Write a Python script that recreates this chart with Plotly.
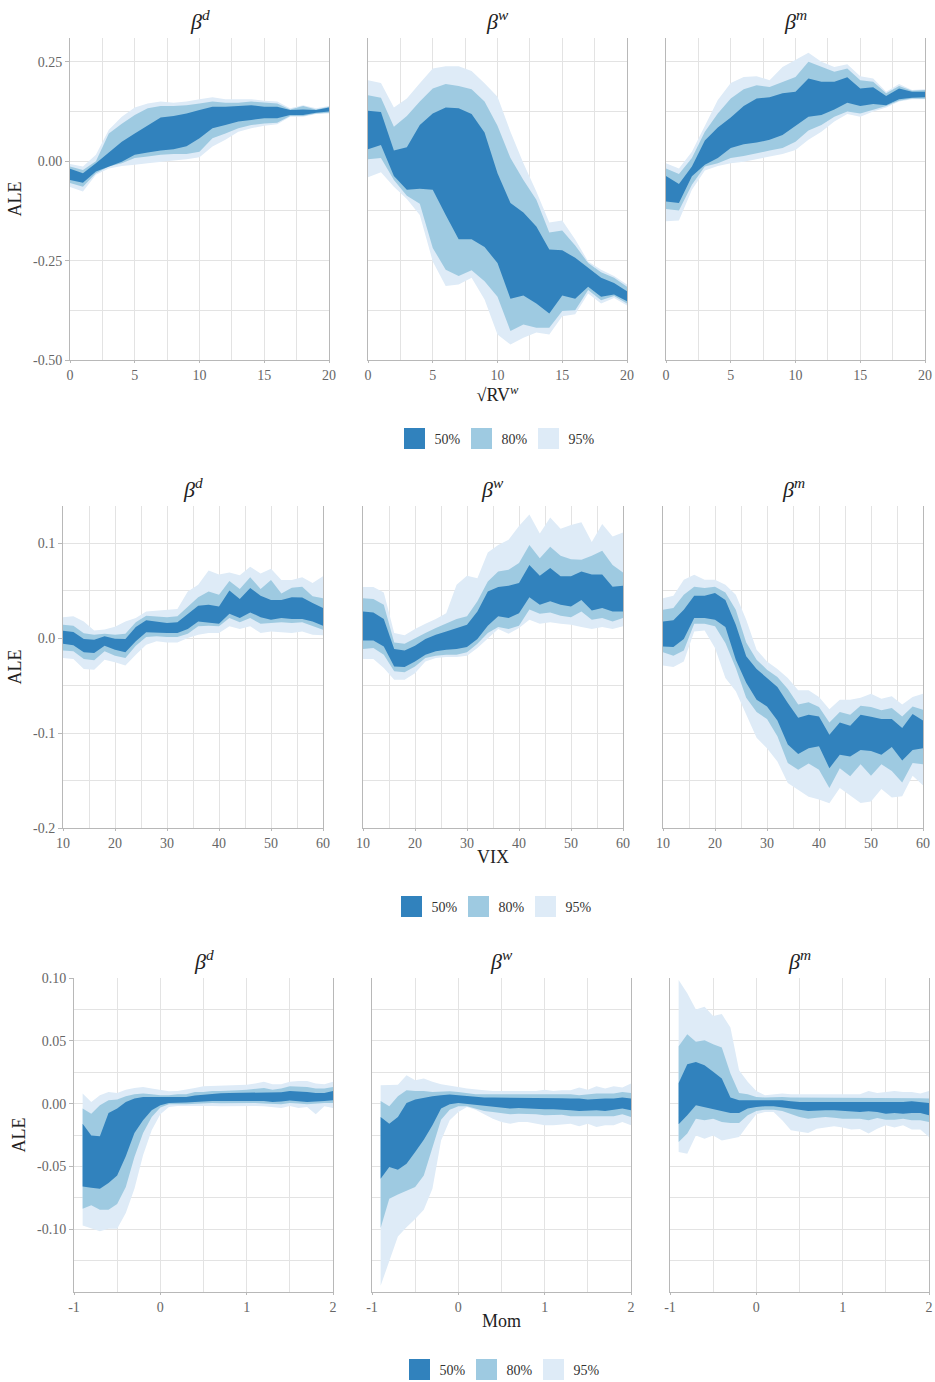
import plotly.graph_objects as go

# ---------------- data ----------------
rv_x = [0, 1, 2, 3, 4, 5, 6, 7, 8, 9, 10, 11, 12, 13, 14, 15, 16, 17, 18, 19, 20]
vix_x = [10, 12, 14, 16, 18, 20, 22, 24, 26, 28, 30, 32, 34, 36, 38, 40, 42, 44, 46, 48, 50, 52, 54, 56, 58, 60]
mom_x = [-0.9, -0.8, -0.7, -0.6, -0.5, -0.4, -0.3, -0.2, -0.1, 0.0, 0.1, 0.2, 0.3, 0.4, 0.5,
         0.6, 0.7, 0.8, 0.9, 1.0, 1.1, 1.2, 1.3, 1.4, 1.5, 1.6, 1.7, 1.8, 1.9, 2.0]

# sqrt(RV^w) -> beta^d
rv_d_hi95 = [-0.007, -0.013, 0.016, 0.079, 0.112, 0.135, 0.145, 0.150, 0.147, 0.150, 0.156, 0.161, 0.156, 0.156, 0.156, 0.152, 0.150, 0.133, 0.141, 0.133, 0.139]
rv_d_hi80 = [-0.013, -0.022, 0.000, 0.070, 0.094, 0.116, 0.133, 0.139, 0.139, 0.141, 0.145, 0.150, 0.147, 0.147, 0.150, 0.147, 0.145, 0.130, 0.139, 0.130, 0.137]
rv_d_hi50 = [-0.019, -0.030, -0.005, 0.022, 0.049, 0.070, 0.091, 0.110, 0.114, 0.120, 0.129, 0.137, 0.137, 0.139, 0.141, 0.137, 0.137, 0.129, 0.130, 0.129, 0.135]
rv_d_lo50 = [-0.047, -0.054, -0.026, -0.013, -0.001, 0.016, 0.022, 0.027, 0.030, 0.038, 0.058, 0.083, 0.091, 0.100, 0.104, 0.108, 0.108, 0.116, 0.116, 0.122, 0.125]
rv_d_lo80 = [-0.055, -0.064, -0.030, -0.013, -0.005, 0.008, 0.012, 0.016, 0.018, 0.018, 0.024, 0.058, 0.070, 0.083, 0.091, 0.095, 0.097, 0.114, 0.114, 0.120, 0.122]
rv_d_lo95 = [-0.065, -0.076, -0.034, -0.018, -0.012, -0.009, -0.005, -0.001, 0.002, 0.005, 0.010, 0.037, 0.054, 0.074, 0.083, 0.089, 0.093, 0.112, 0.112, 0.119, 0.120]

# sqrt(RV^w) -> beta^w
rv_w_hi95 = [0.204, 0.197, 0.135, 0.158, 0.196, 0.233, 0.239, 0.239, 0.227, 0.196, 0.162, 0.074, -0.005, -0.076, -0.154, -0.149, -0.197, -0.252, -0.273, -0.289, -0.310]
rv_w_hi80 = [0.166, 0.160, 0.087, 0.114, 0.150, 0.183, 0.194, 0.189, 0.181, 0.150, 0.089, 0.008, -0.047, -0.097, -0.179, -0.174, -0.212, -0.256, -0.279, -0.293, -0.316]
rv_w_hi50 = [0.127, 0.124, 0.027, 0.035, 0.091, 0.120, 0.135, 0.133, 0.119, 0.072, -0.030, -0.105, -0.129, -0.164, -0.222, -0.224, -0.243, -0.268, -0.293, -0.306, -0.327]
rv_w_lo50 = [0.030, 0.041, -0.037, -0.072, -0.069, -0.072, -0.135, -0.196, -0.196, -0.216, -0.256, -0.346, -0.338, -0.358, -0.383, -0.338, -0.346, -0.316, -0.341, -0.335, -0.352]
rv_w_lo80 = [0.005, 0.008, -0.047, -0.087, -0.107, -0.218, -0.273, -0.289, -0.274, -0.302, -0.341, -0.427, -0.411, -0.419, -0.419, -0.377, -0.375, -0.324, -0.350, -0.339, -0.358]
rv_w_lo95 = [-0.040, -0.028, -0.064, -0.095, -0.135, -0.252, -0.314, -0.310, -0.293, -0.348, -0.436, -0.461, -0.444, -0.431, -0.436, -0.390, -0.385, -0.333, -0.358, -0.344, -0.363]

# sqrt(RV^w) -> beta^m
rv_m_hi95 = [-0.005, -0.018, 0.024, 0.091, 0.154, 0.197, 0.212, 0.214, 0.204, 0.237, 0.256, 0.273, 0.250, 0.237, 0.244, 0.214, 0.208, 0.175, 0.194, 0.179, 0.181]
rv_m_hi80 = [-0.018, -0.032, 0.008, 0.074, 0.120, 0.158, 0.181, 0.191, 0.187, 0.200, 0.212, 0.250, 0.237, 0.225, 0.233, 0.204, 0.200, 0.171, 0.189, 0.177, 0.179]
rv_m_hi50 = [-0.037, -0.057, -0.013, 0.052, 0.085, 0.110, 0.139, 0.158, 0.161, 0.171, 0.175, 0.208, 0.200, 0.200, 0.211, 0.183, 0.186, 0.164, 0.183, 0.175, 0.175]
rv_m_lo50 = [-0.101, -0.105, -0.038, -0.009, 0.008, 0.033, 0.043, 0.047, 0.054, 0.066, 0.089, 0.112, 0.116, 0.130, 0.147, 0.139, 0.144, 0.141, 0.156, 0.160, 0.161]
rv_m_lo80 = [-0.120, -0.124, -0.059, -0.013, -0.005, 0.008, 0.013, 0.020, 0.027, 0.033, 0.049, 0.077, 0.091, 0.112, 0.125, 0.120, 0.129, 0.139, 0.152, 0.158, 0.157]
rv_m_lo95 = [-0.151, -0.149, -0.072, -0.023, -0.012, -0.005, -0.001, 0.005, 0.012, 0.018, 0.028, 0.054, 0.074, 0.100, 0.119, 0.112, 0.125, 0.135, 0.150, 0.156, 0.156]

# VIX -> beta^d
vix_d_hi95 = [0.022, 0.023, 0.0175, 0.008, 0.009, 0.012, 0.0175, 0.021, 0.028, 0.029, 0.030, 0.0305, 0.049, 0.056, 0.071, 0.067, 0.069, 0.066, 0.075, 0.068, 0.073, 0.061, 0.061, 0.064, 0.058, 0.065]
vix_d_hi80 = [0.014, 0.013, 0.005, 0.0035, 0.0046, 0.0035, 0.0046, 0.0165, 0.0235, 0.023, 0.022, 0.023, 0.033, 0.043, 0.049, 0.0456, 0.060, 0.0516, 0.064, 0.0516, 0.061, 0.047, 0.053, 0.054, 0.044, 0.042]
vix_d_hi50 = [0.0077, 0.0063, -0.001, -0.0018, 0.0018, -0.0007, -0.001, 0.0116, 0.0186, 0.0175, 0.0158, 0.0165, 0.0256, 0.034, 0.035, 0.0333, 0.050, 0.041, 0.0526, 0.0446, 0.040, 0.040, 0.043, 0.0428, 0.037, 0.0316]
vix_d_lo50 = [-0.006, -0.0077, -0.015, -0.0158, -0.008, -0.0123, -0.015, -0.0035, 0.006, 0.006, 0.0053, 0.0053, 0.0095, 0.0175, 0.0165, 0.015, 0.0256, 0.021, 0.027, 0.022, 0.0193, 0.021, 0.020, 0.020, 0.0175, 0.013]
vix_d_lo80 = [-0.013, -0.014, -0.022, -0.0235, -0.014, -0.0186, -0.021, -0.008, 0.001, 0.0018, 0.001, 0.001, 0.0046, 0.0123, 0.013, 0.0123, 0.021, 0.0165, 0.021, 0.015, 0.0158, 0.0165, 0.0158, 0.0165, 0.0123, 0.0088]
vix_d_lo95 = [-0.021, -0.022, -0.0326, -0.0333, -0.0228, -0.0256, -0.029, -0.0175, -0.007, -0.0035, -0.0046, -0.0046, 0.0, 0.0035, 0.0053, 0.0053, 0.0123, 0.0095, 0.0123, 0.0053, 0.007, 0.006, 0.0053, 0.007, 0.0035, 0.0028]

# VIX -> beta^w
vix_w_hi95 = [0.0537, 0.0537, 0.048, 0.0053, 0.0028, 0.0095, 0.015, 0.020, 0.026, 0.056, 0.0656, 0.063, 0.090, 0.098, 0.1035, 0.118, 0.130, 0.110, 0.127, 0.115, 0.119, 0.122, 0.101, 0.120, 0.107, 0.111]
vix_w_hi80 = [0.042, 0.041, 0.035, -0.0046, -0.006, 0.0, 0.0053, 0.0105, 0.015, 0.020, 0.0228, 0.0386, 0.0596, 0.070, 0.072, 0.079, 0.098, 0.084, 0.096, 0.0867, 0.083, 0.0825, 0.0867, 0.092, 0.077, 0.069]
vix_w_hi50 = [0.028, 0.027, 0.020, -0.0116, -0.013, -0.008, -0.001, 0.0035, 0.007, 0.0105, 0.014, 0.028, 0.049, 0.0537, 0.055, 0.058, 0.077, 0.0656, 0.0737, 0.065, 0.065, 0.070, 0.067, 0.067, 0.054, 0.055]
vix_w_lo50 = [-0.0025, -0.0025, -0.0088, -0.030, -0.0305, -0.0246, -0.0175, -0.014, -0.0123, -0.0116, -0.0095, -0.001, 0.013, 0.0228, 0.021, 0.026, 0.043, 0.035, 0.0386, 0.035, 0.0333, 0.040, 0.029, 0.0316, 0.028, 0.028]
vix_w_lo80 = [-0.0116, -0.0105, -0.0175, -0.035, -0.036, -0.030, -0.021, -0.0186, -0.0175, -0.0175, -0.015, -0.006, 0.0053, 0.0116, 0.0095, 0.013, 0.030, 0.0256, 0.027, 0.0235, 0.022, 0.028, 0.0193, 0.021, 0.0175, 0.021]
vix_w_lo95 = [-0.022, -0.022, -0.0316, -0.044, -0.044, -0.037, -0.0246, -0.021, -0.020, -0.020, -0.0186, -0.0105, 0.0, 0.0095, 0.0046, 0.0105, 0.0193, 0.015, 0.0165, 0.015, 0.014, 0.0116, 0.0095, 0.0116, 0.0095, 0.0123]

# VIX -> beta^m
vix_m_hi95 = [0.042, 0.0446, 0.0614, 0.0667, 0.0614, 0.0614, 0.056, 0.0456, 0.0193, -0.0123, -0.0246, -0.0326, -0.042, -0.055, -0.055, -0.062, -0.075, -0.065, -0.065, -0.063, -0.0586, -0.064, -0.0614, -0.070, -0.062, -0.0586]
vix_m_hi80 = [0.0298, 0.0316, 0.0456, 0.054, 0.0526, 0.054, 0.048, 0.0298, -0.0046, -0.0228, -0.0333, -0.041, -0.0537, -0.070, -0.0677, -0.0726, -0.0888, -0.078, -0.0807, -0.0712, -0.0726, -0.076, -0.0737, -0.0825, -0.072, -0.0754]
vix_m_hi50 = [0.0175, 0.0186, 0.0298, 0.0446, 0.0446, 0.0474, 0.040, 0.014, -0.0193, -0.0326, -0.042, -0.0516, -0.0684, -0.084, -0.0807, -0.0825, -0.1018, -0.0888, -0.0923, -0.0807, -0.083, -0.0853, -0.0853, -0.0947, -0.080, -0.0867]
vix_m_lo50 = [-0.0088, -0.0095, -0.001, 0.021, 0.021, 0.0193, 0.0116, -0.0228, -0.047, -0.065, -0.072, -0.0867, -0.112, -0.122, -0.116, -0.114, -0.137, -0.123, -0.1246, -0.118, -0.119, -0.123, -0.1147, -0.129, -0.118, -0.116]
vix_m_lo80 = [-0.015, -0.0186, -0.013, 0.015, 0.015, 0.0123, -0.0053, -0.0316, -0.063, -0.078, -0.0853, -0.1035, -0.1316, -0.1386, -0.132, -0.1386, -0.158, -0.137, -0.1456, -0.133, -0.145, -0.133, -0.140, -0.152, -0.1316, -0.133]
vix_m_lo95 = [-0.029, -0.0305, -0.0246, 0.007, 0.008, -0.0105, -0.042, -0.056, -0.0807, -0.105, -0.116, -0.130, -0.1526, -0.160, -0.167, -0.170, -0.174, -0.158, -0.166, -0.1737, -0.172, -0.159, -0.168, -0.1667, -0.145, -0.155]

# Mom -> beta^d
mom_d_hi95 = [0.008, 0.0013, 0.0066, 0.0093, 0.0085, 0.011, 0.0125, 0.0133, 0.012, 0.0106, 0.0098, 0.010, 0.011, 0.0125, 0.0138, 0.014, 0.014, 0.0146, 0.0144, 0.015, 0.016, 0.0173, 0.0154, 0.0154, 0.0173, 0.018, 0.018, 0.016, 0.0154, 0.0173]
mom_d_hi80 = [-0.004, -0.008, -0.0013, 0.0027, 0.0032, 0.0059, 0.0074, 0.008, 0.0074, 0.0066, 0.0066, 0.0074, 0.0074, 0.0093, 0.0093, 0.010, 0.010, 0.0106, 0.0106, 0.011, 0.012, 0.0125, 0.011, 0.012, 0.0138, 0.0138, 0.0133, 0.012, 0.012, 0.0133]
mom_d_hi50 = [-0.016, -0.0253, -0.026, -0.0074, -0.004, 0.0013, 0.004, 0.0053, 0.0053, 0.0053, 0.0048, 0.0053, 0.0053, 0.0064, 0.0072, 0.008, 0.0082, 0.0085, 0.0085, 0.0088, 0.009, 0.0088, 0.0088, 0.009, 0.010, 0.0098, 0.0093, 0.0085, 0.0085, 0.010]
mom_d_lo50 = [-0.066, -0.067, -0.0678, -0.0633, -0.0572, -0.042, -0.0234, -0.0133, -0.0053, -0.0013, 0.0005, 0.0008, 0.0008, 0.0013, 0.0019, 0.0021, 0.0021, 0.0024, 0.0021, 0.0021, 0.0024, 0.0021, 0.0013, 0.0016, 0.0024, 0.0019, 0.0013, 0.0019, 0.0021, 0.0027]
mom_d_lo80 = [-0.0838, -0.081, -0.0846, -0.0846, -0.080, -0.0665, -0.0426, -0.0234, -0.0106, -0.0032, -0.0005, -0.0005, -0.0005, 0.0, 0.0, 0.0005, 0.0003, 0.0005, 0.0003, 0.0003, 0.0005, 0.0, -0.0005, -0.0005, 0.0005, 0.0, -0.0005, 0.0, 0.0005, 0.0005]
mom_d_lo95 = [-0.097, -0.099, -0.1016, -0.0997, -0.0997, -0.0872, -0.0678, -0.0412, -0.0213, -0.0085, -0.0027, -0.0019, -0.0019, -0.0021, -0.0019, -0.0019, -0.0021, -0.0019, -0.0021, -0.0021, -0.0019, -0.0021, -0.0027, -0.0035, -0.0019, -0.0035, -0.0027, -0.0085, -0.0021, -0.0035]

# Mom -> beta^w
mom_w_hi95 = [0.0146, 0.015, 0.015, 0.0226, 0.0186, 0.020, 0.0173, 0.0154, 0.0146, 0.0133, 0.012, 0.011, 0.0106, 0.010, 0.010, 0.010, 0.010, 0.0106, 0.010, 0.011, 0.010, 0.0106, 0.0106, 0.0128, 0.011, 0.0138, 0.012, 0.0138, 0.0128, 0.016]
mom_w_hi80 = [0.0021, -0.0021, 0.0059, 0.0106, 0.010, 0.010, 0.0093, 0.0098, 0.0098, 0.0093, 0.0085, 0.0074, 0.0074, 0.0074, 0.0074, 0.0074, 0.0074, 0.0074, 0.0074, 0.0074, 0.0074, 0.0074, 0.0074, 0.0066, 0.0074, 0.008, 0.008, 0.008, 0.0093, 0.0085]
mom_w_hi50 = [-0.0106, -0.016, -0.0106, 0.0005, 0.0032, 0.0048, 0.0059, 0.0066, 0.0072, 0.0066, 0.0059, 0.0053, 0.0048, 0.0048, 0.0048, 0.0048, 0.0048, 0.0048, 0.0045, 0.0045, 0.0045, 0.0043, 0.004, 0.004, 0.0032, 0.0037, 0.004, 0.004, 0.0048, 0.004]
mom_w_lo50 = [-0.0598, -0.0505, -0.0527, -0.0479, -0.0386, -0.0287, -0.0173, -0.004, -0.0005, 0.0005, 0.0, -0.0005, -0.0013, -0.0021, -0.0032, -0.004, -0.0035, -0.0035, -0.004, -0.0045, -0.0045, -0.0048, -0.0053, -0.0059, -0.0059, -0.0053, -0.0059, -0.0048, -0.004, -0.0053]
mom_w_lo80 = [-0.099, -0.0758, -0.0723, -0.0691, -0.0665, -0.0572, -0.0346, -0.0128, -0.0048, -0.0021, -0.0021, -0.004, -0.0059, -0.0066, -0.0074, -0.0085, -0.008, -0.008, -0.0085, -0.0093, -0.0093, -0.0088, -0.0101, -0.0106, -0.0106, -0.0106, -0.0101, -0.0101, -0.0085, -0.0106]
mom_w_lo95 = [-0.145, -0.1263, -0.1059, -0.0984, -0.0918, -0.0846, -0.0678, -0.0293, -0.0133, -0.0066, -0.0027, -0.0048, -0.0085, -0.012, -0.0146, -0.016, -0.0146, -0.0146, -0.016, -0.0173, -0.0173, -0.0168, -0.016, -0.0181, -0.016, -0.0186, -0.0173, -0.0173, -0.0146, -0.0173]

# Mom -> beta^m
mom_m_hi95 = [0.0984, 0.0878, 0.075, 0.0771, 0.0697, 0.0713, 0.0606, 0.0266, 0.0173, 0.010, 0.0066, 0.0074, 0.008, 0.0074, 0.0074, 0.0074, 0.0074, 0.0074, 0.0074, 0.0074, 0.0072, 0.0074, 0.010, 0.0085, 0.0093, 0.010, 0.0093, 0.0093, 0.008, 0.010]
mom_m_hi80 = [0.0457, 0.0553, 0.0492, 0.0505, 0.0473, 0.0447, 0.0239, 0.0085, 0.0074, 0.0053, 0.0048, 0.0053, 0.0053, 0.0048, 0.0048, 0.0048, 0.0048, 0.0048, 0.0048, 0.0048, 0.0043, 0.0043, 0.0048, 0.0048, 0.0048, 0.0048, 0.0048, 0.0048, 0.0043, 0.004]
mom_m_hi50 = [0.0165, 0.0314, 0.0332, 0.0306, 0.0253, 0.020, 0.0048, 0.0027, 0.0027, 0.0027, 0.0027, 0.0027, 0.0027, 0.0019, 0.0013, 0.0013, 0.0013, 0.0013, 0.0013, 0.0013, 0.0011, 0.0011, 0.0011, 0.0011, 0.0011, 0.0008, 0.0013, 0.0019, 0.0013, 0.0005]
mom_m_lo50 = [-0.0165, -0.0093, -0.0013, -0.0027, -0.004, -0.0059, -0.0074, -0.0074, -0.004, -0.0027, -0.0021, -0.0021, -0.0027, -0.004, -0.0048, -0.0059, -0.0059, -0.0053, -0.0053, -0.0053, -0.0061, -0.0066, -0.0061, -0.0066, -0.008, -0.0074, -0.008, -0.0074, -0.0074, -0.0093]
mom_m_lo80 = [-0.0306, -0.0239, -0.012, -0.0133, -0.012, -0.0146, -0.0154, -0.0154, -0.0093, -0.0059, -0.0048, -0.0048, -0.0059, -0.0085, -0.0106, -0.012, -0.0112, -0.0106, -0.0112, -0.012, -0.012, -0.012, -0.0133, -0.0114, -0.0128, -0.0128, -0.012, -0.0133, -0.0133, -0.0146]
mom_m_lo95 = [-0.0386, -0.0399, -0.0253, -0.0279, -0.0253, -0.0293, -0.0279, -0.0266, -0.0173, -0.0085, -0.0066, -0.0066, -0.0133, -0.0213, -0.0226, -0.0234, -0.020, -0.0191, -0.0181, -0.0191, -0.0207, -0.0202, -0.0239, -0.020, -0.0173, -0.0191, -0.0173, -0.0207, -0.0207, -0.0266]

# tick labels
rv_ticks = [0, 5, 10, 15, 20]
rv_tick_text = ["0", "5", "10", "15", "20"]
vix_ticks = [10, 20, 30, 40, 50, 60]
vix_tick_text = ["10", "20", "30", "40", "50", "60"]
mom_ticks = [-1, 0, 1, 2]
mom_tick_text = ["-1", "0", "1", "2"]
y1_ticks = [-0.5, -0.25, 0.0, 0.25]
y1_tick_text = ["-0.50", "-0.25", "0.00", "0.25"]
y2_ticks = [-0.2, -0.1, 0.0, 0.1]
y2_tick_text = ["-0.2", "-0.1", "0.0", "0.1"]
y3_ticks = [-0.1, -0.05, 0.0, 0.05, 0.1]
y3_tick_text = ["-0.10", "-0.05", "0.00", "0.05", "0.10"]

band_names = ["50%", "80%", "95%"]
beta_names = ["d", "w", "m"]

# ---------------- styling ----------------
C50, C80, C95 = "#3182bd", "#9ecae1", "#deebf7"
BAND_COLORS = [C50, C80, C95]
FONT = '"Liberation Serif", "DejaVu Serif", serif'
GRID = "#e3e3e3"
AXIS = "#b8b8b8"
TICK = "#666666"
TXT = "#222222"
W, H = 935, 1382

panels = [
    (1, rv_x, rv_d_lo95, rv_d_hi95, rv_d_lo80, rv_d_hi80, rv_d_lo50, rv_d_hi50),
    (1, rv_x, rv_w_lo95, rv_w_hi95, rv_w_lo80, rv_w_hi80, rv_w_lo50, rv_w_hi50),
    (1, rv_x, rv_m_lo95, rv_m_hi95, rv_m_lo80, rv_m_hi80, rv_m_lo50, rv_m_hi50),
    (2, vix_x, vix_d_lo95, vix_d_hi95, vix_d_lo80, vix_d_hi80, vix_d_lo50, vix_d_hi50),
    (2, vix_x, vix_w_lo95, vix_w_hi95, vix_w_lo80, vix_w_hi80, vix_w_lo50, vix_w_hi50),
    (2, vix_x, vix_m_lo95, vix_m_hi95, vix_m_lo80, vix_m_hi80, vix_m_lo50, vix_m_hi50),
    (3, mom_x, mom_d_lo95, mom_d_hi95, mom_d_lo80, mom_d_hi80, mom_d_lo50, mom_d_hi50),
    (3, mom_x, mom_w_lo95, mom_w_hi95, mom_w_lo80, mom_w_hi80, mom_w_lo50, mom_w_hi50),
    (3, mom_x, mom_m_lo95, mom_m_hi95, mom_m_lo80, mom_m_hi80, mom_m_lo50, mom_m_hi50),
]

rows = {
    1: dict(xr=[0, 20], xt=rv_ticks, xtt=rv_tick_text, xminor=2.5,
            yr=[-0.5, 0.31], yt=y1_ticks, ytt=y1_tick_text, yminor=0.125,
            xpx=[(70, 329), (368, 627), (666, 925)], ypx=(38, 360),
            xtitle="√RV<sup><i>w</i></sup>", legend="legend", leg_x=495, leg_y=439),
    2: dict(xr=[10, 60], xt=vix_ticks, xtt=vix_tick_text, xminor=5,
            yr=[-0.2, 0.139], yt=y2_ticks, ytt=y2_tick_text, yminor=0.05,
            xpx=[(63, 323), (363, 623), (663, 923)], ypx=(506, 828),
            xtitle="VIX", legend="legend2", leg_x=492, leg_y=907),
    3: dict(xr=[-1, 2], xt=mom_ticks, xtt=mom_tick_text, xminor=0.5,
            yr=[-0.15, 0.10], yt=y3_ticks, ytt=y3_tick_text, yminor=0.025,
            xpx=[(74, 333), (372, 631), (670, 929)], ypx=(978, 1292),
            xtitle="Mom", legend="legend3", leg_x=500, leg_y=1370),
}

fig = go.Figure()
layout = {}
annotations = []

for k, (r, x, lo95, hi95, lo80, hi80, lo50, hi50) in enumerate(panels, start=1):
    col = (k - 1) % 3
    cfg = rows[r]
    xa = "x" if k == 1 else f"x{k}"
    ya = "y" if k == 1 else f"y{k}"
    xkey = "xaxis" if k == 1 else f"xaxis{k}"
    ykey = "yaxis" if k == 1 else f"yaxis{k}"

    for lo, hi, c in [(lo95, hi95, C95), (lo80, hi80, C80), (lo50, hi50, C50)]:
        fig.add_trace(go.Scatter(
            x=list(x) + list(x)[::-1], y=list(hi) + list(lo)[::-1],
            fill="toself", fillcolor=c, mode="lines", line=dict(width=0, color=c),
            hoverinfo="skip", showlegend=False, xaxis=xa, yaxis=ya))

    if col == 0:
        for name, c in zip(band_names, BAND_COLORS):
            fig.add_trace(go.Scatter(
                x=[None], y=[None], mode="markers", name=name,
                marker=dict(symbol="square", size=16, color=c, line=dict(color=c, width=5)),
                legend=cfg["legend"], xaxis=xa, yaxis=ya, hoverinfo="skip"))

    x0, x1 = cfg["xpx"][col]
    yt, yb = cfg["ypx"]
    xaxis = dict(
        domain=[x0 / W, x1 / W], anchor=ya, range=cfg["xr"], automargin=False,
        tickmode="array", tickvals=cfg["xt"], ticktext=cfg["xtt"],
        showgrid=True, gridcolor=GRID, gridwidth=1, zeroline=False,
        minor=dict(tickmode="linear", tick0=0, dtick=cfg["xminor"], showgrid=True,
                   gridcolor=GRID, gridwidth=1, ticks=""),
        showline=True, linecolor=AXIS, linewidth=1,
        ticks="outside", ticklen=2, tickcolor=AXIS,
        tickfont=dict(family=FONT, size=14, color=TICK),
        fixedrange=True,
    )
    if col == 1:
        xaxis["title"] = dict(text=cfg["xtitle"],
                              font=dict(family=FONT, size=18, color=TXT), standoff=0)
    layout[xkey] = xaxis

    yaxis = dict(
        domain=[1 - yb / H, 1 - yt / H], anchor=xa, range=cfg["yr"], automargin=False,
        tickmode="array", tickvals=cfg["yt"], ticktext=cfg["ytt"],
        showticklabels=(col == 0),
        showgrid=True, gridcolor=GRID, gridwidth=1, zeroline=False,
        minor=dict(tickmode="linear", tick0=0, dtick=cfg["yminor"], showgrid=True,
                   gridcolor=GRID, gridwidth=1, ticks=""),
        showline=True, mirror=True, linecolor=AXIS, linewidth=1,
        ticks="outside" if col == 0 else "", ticklen=4, tickcolor=AXIS,
        tickfont=dict(family=FONT, size=14, color=TICK),
        fixedrange=True,
    )
    if col == 0:
        yaxis["title"] = dict(text="ALE", font=dict(family=FONT, size=18, color=TXT), standoff=6)
    layout[ykey] = yaxis

    annotations.append(dict(
        xref="paper", yref="paper", x=((x0 + x1) / 2) / W, y=1 - (yt - 18) / H,
        text=f"<i>β</i><sup><i>{beta_names[col]}</i></sup>",
        showarrow=False, xanchor="center", yanchor="middle",
        font=dict(family=FONT, size=22, color=TXT)))

for r, cfg in rows.items():
    layout[cfg["legend"]] = dict(
        orientation="h", x=cfg["leg_x"] / W, y=1 - cfg["leg_y"] / H,
        xanchor="center", yanchor="middle", itemwidth=30,
        entrywidth=22, entrywidthmode="pixels",
        font=dict(family=FONT, size=14, color="#333333"),
        bgcolor="rgba(0,0,0,0)", itemclick=False, itemdoubleclick=False)

fig.update_layout(
    width=W, height=H, margin=dict(l=0, r=0, t=0, b=0, autoexpand=False),
    paper_bgcolor="white", plot_bgcolor="white",
    font=dict(family=FONT, color=TXT),
    annotations=annotations, showlegend=True,
    **layout)

fig.write_html("out.html")
